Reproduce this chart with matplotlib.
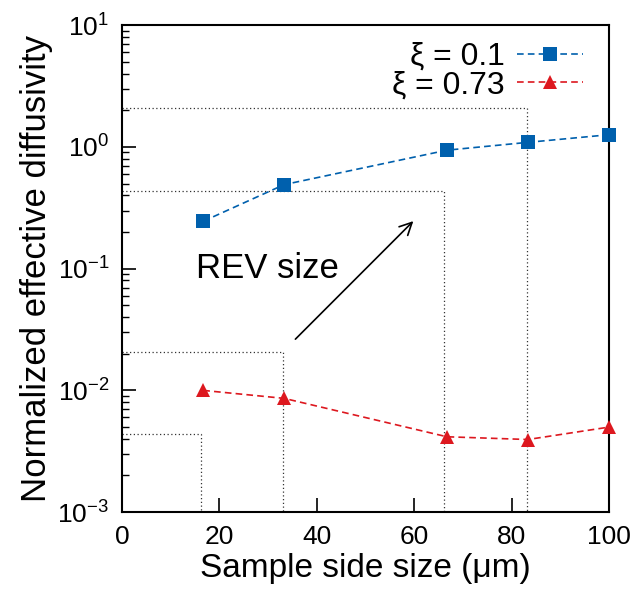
import matplotlib
matplotlib.use("Agg")
import matplotlib.pyplot as plt
from matplotlib.ticker import LogLocator, FixedLocator, NullFormatter

plt.rcParams['font.family'] = ['Liberation Sans', 'DejaVu Sans']
plt.rcParams['mathtext.fontset'] = 'custom'
plt.rcParams['mathtext.rm'] = 'Liberation Sans'
plt.rcParams['mathtext.it'] = 'Liberation Sans'
plt.rcParams['mathtext.default'] = 'regular'

# Data
sizes = [16.7, 33.3, 66.7, 83.3, 100.0]
d_xi01 = [0.245, 0.49, 0.94, 1.09, 1.26]
d_xi073 = [0.0100, 0.0086, 0.00416, 0.00395, 0.0050]
labels = ["ξ = 0.1", "ξ = 0.73"]
rev_x = [16.2, 33.1, 66.1, 83.1]
rev_y = [0.00435, 0.0207, 0.433, 2.09]
xticks = [0, 20, 40, 60, 80, 100]
yticks = [1e-3, 1e-2, 1e-1, 1e0, 1e1]
ytick_labels = [r"$10^{-3}$", r"$10^{-2}$", r"$10^{-1}$", r"$10^{0}$", r"$10^{1}$"]

fig = plt.figure(figsize=(6.38, 5.99), dpi=100)
ax = fig.add_axes([0.191, 0.145, 0.764, 0.813])

# REV boxes
for rx, ry in zip(rev_x, rev_y):
    ax.plot([0, rx, rx], [ry, ry, 1e-3], linestyle=(0, (1, 2)), color='#333333', lw=0.9, zorder=1)

ax.plot(sizes, d_xi01, linestyle=(0, (4, 2.5)), color='#0060AD', lw=1.2,
        marker='s', markersize=9.5, markeredgewidth=0, label=labels[0], zorder=3, clip_on=False)
ax.plot(sizes, d_xi073, linestyle=(0, (4, 2.5)), color='#DD181F', lw=1.2,
        marker='^', markersize=10, markeredgewidth=0, label=labels[1], zorder=3, clip_on=False)

ax.annotate("", xy=(60.2, 0.255), xytext=(35.2, 0.0254),
            arrowprops=dict(arrowstyle='->', color='black', lw=1.2, mutation_scale=22))
ax.text(15.3, 0.101, "REV size", fontsize=25, va='center', ha='left')

ax.set_yscale('log')
ax.set_xlim(0, 100)
ax.set_ylim(1e-3, 1e1)
ax.xaxis.set_major_locator(FixedLocator(xticks))
ax.set_xticklabels([str(t) for t in xticks])
ax.yaxis.set_major_locator(FixedLocator(yticks))
ax.set_yticklabels(ytick_labels)
ax.yaxis.set_minor_locator(LogLocator(base=10, subs=range(2, 10)))
ax.yaxis.set_minor_formatter(NullFormatter())

ax.tick_params(axis='both', which='major', direction='in', length=10, width=1.2,
               labelsize=19, top=False, right=False, pad=9)
ax.tick_params(axis='y', which='minor', direction='in', length=5, width=1.0, right=False)
for s in ax.spines.values():
    s.set_linewidth(1.5)

ax.set_xlabel("Sample side size (μm)", fontsize=24, labelpad=3)
ax.set_ylabel("Normalized effective diffusivity", fontsize=25, labelpad=3)

leg = ax.legend(loc='upper right', markerfirst=False, frameon=False, fontsize=23,
                handlelength=2.05, handletextpad=0.4, labelspacing=-0.05,
                bbox_to_anchor=(0.972, 0.992), borderaxespad=0.1, borderpad=0.3)

fig.savefig("out.png", dpi=100)
